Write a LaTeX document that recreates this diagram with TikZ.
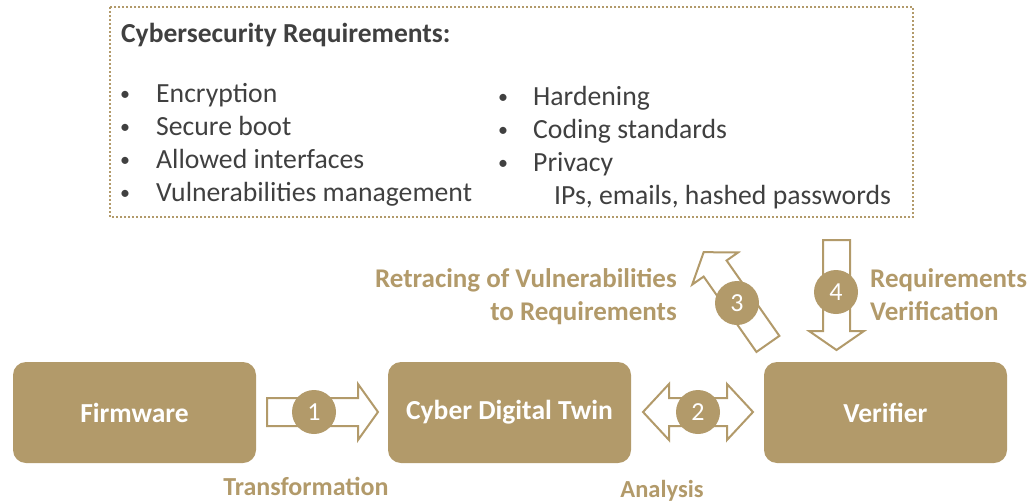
\documentclass[tikz,border=0pt]{standalone}
\usepackage{fontspec}
\setmainfont{Carlito}
\definecolor{gold}{HTML}{B29A6A}
\definecolor{txt}{HTML}{404040}
\begin{document}
\begin{tikzpicture}[x=1pt,y=-1pt,
  box/.style={fill=gold, rounded corners=13pt, minimum width=243pt, minimum height=101pt, text=white, font=\fontsize{27.5}{32}\selectfont\bfseries, inner sep=0pt},
  num/.style={circle, fill=gold, minimum size=44pt, inner sep=0pt, text=white, font=\fontsize{26}{30}\selectfont},
  blk/.style={draw=gold, line width=2pt, fill=white, line join=miter},
  lbl/.style={text=gold, font=\fontsize{27}{31}\selectfont\bfseries, inner sep=0pt},
  item/.style={text=txt, font=\fontsize{27.7}{32}\selectfont, inner sep=0pt, anchor=base west},
  bul/.style={text=txt, font=\fontsize{20}{24}\selectfont, inner sep=0pt, anchor=base}]
\useasboundingbox (0,0) rectangle (1035,503);
% requirements frame
\draw[gold, line width=2pt, dash pattern=on 2pt off 2pt] (110,7) rectangle (913,217);
\node[anchor=base west, text=txt, font=\fontsize{27.5}{32}\selectfont\bfseries, inner sep=0pt] (title) at (121,43) {Cybersecurity Requirements:};
\node[bul] (b1) at (125,100) {•}; \node[item] (i1) at (156,102) {Encryption};
\node[bul] (b2) at (125,133) {•}; \node[item] (i2) at (156,135) {Secure boot};
\node[bul] (b3) at (125,166) {•}; \node[item] (i3) at (156,168) {Allowed interfaces};
\node[bul] (b4) at (125,199) {•}; \node[item] (i4) at (156,201) {Vulnerabilities management};
\node[bul] (b5) at (503,103) {•}; \node[item] (i5) at (533,105) {Hardening};
\node[bul] (b6) at (503,136) {•}; \node[item] (i6) at (533,138) {Coding standards};
\node[bul] (b7) at (503,169) {•}; \node[item] (i7) at (533,171) {Privacy};
\node[item] (i8) at (554,204) {IPs, emails, hashed passwords};
% boxes
\node[box] (fw) at (134.5,412.5) {Firmware};
\node[box] (cdt) at (509.5,412.5) {Cyber Digital Twin};
\node[box] (ver) at (885.5,412.5) {Verifier};
% block arrows
\draw[blk] (267,398) -- (358,398) -- (358,384) -- (378,412) -- (358,440) -- (358,426) -- (267,426) -- cycle;
\draw[blk] (643,412) -- (669,384) -- (669,398) -- (727,398) -- (727,384) -- (753,412) -- (727,440) -- (727,426) -- (669,426) -- (669,440) -- cycle;
\draw[blk] (823,240) -- (850,240) -- (850,331) -- (864,331) -- (836.5,350) -- (809,331) -- (823,331) -- cycle;
\begin{scope}[shift={(767.9,343.9)}, rotate=125]
\draw[blk] (0,-14) -- (92,-14) -- (92,-28) -- (112,0) -- (92,28) -- (92,14) -- (0,14) -- cycle;
\end{scope}
% numbers
\node[num] (n1) at (314,412) {1};
\node[num] (n2) at (698,412) {2};
\node[num] (n3) at (737,303) {3};
\node[num] (n4) at (836,292) {4};
% labels
\node[lbl, anchor=base east] (l3a) at (677,287) {Retracing of Vulnerabilities};
\node[lbl, anchor=base east] (l3b) at (677,320) {to Requirements};
\node[lbl, anchor=base west] (l4a) at (870,287) {Requirements};
\node[lbl, anchor=base west] (l4b) at (870,320) {Verification};
\node[lbl, anchor=base, font=\fontsize{26}{31}\selectfont\bfseries] (l1) at (306,495) {Transformation};
\node[lbl, anchor=base, font=\fontsize{24.5}{29}\selectfont\bfseries] (l2) at (662,497) {Analysis};
\end{tikzpicture}
\end{document}
